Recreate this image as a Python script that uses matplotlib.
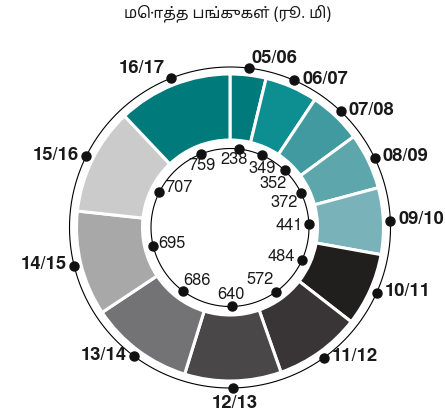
import numpy as np
import matplotlib
matplotlib.use("Agg")
import matplotlib.pyplot as plt
from matplotlib import font_manager as fm

# ---------------- data ----------------
title = "மொத்த பங்குகள் (ரூ. மி)"
years = ["05/06", "06/07", "07/08", "08/09", "09/10", "10/11",
         "11/12", "12/13", "13/14", "14/15", "15/16", "16/17"]
values = [238, 349, 352, 372, 441, 484, 572, 640, 686, 695, 707, 759]
colors = ["#007a7a", "#0d8f92", "#409a9f", "#5ca6ac", "#7ab2ba", "#211e1e",
          "#393536", "#494748", "#737274", "#a8a8a8", "#cbcbcb", "#007a7a"]

# layout nudges (pixels) for the inner value labels
inner_nudge = [(-4, 1.5), (6, -0.5), (0.5, -1.5), (-0.5, -1.5), (0, -1), (-4, -4.5),
               (-7, -2), (0, 0), (4.5, -3.5), (-0.5, -2), (3, 13), (-4, 2)]

installed = {f.name for f in fm.fontManager.ttflist}
base_fams = [f for f in ["FreeSans", "Liberation Sans", "DejaVu Sans"] if f in installed]
tamil_pref = [f for f in ["Noto Sans Tamil", "FreeSans", "Anek Tamil"] if f in installed]
title_fams = tamil_pref[:1] + [f for f in base_fams if f not in tamil_pref[:1]]

W, H = 445, 417
cx_px, cy_px = 230, 227.5
fig = plt.figure(figsize=(W / 100, H / 100), dpi=100)
ax = fig.add_axes([0, 0, 1, 1])

R_SEG_OUT = 153.5
SEG_W = 66
R_OUT = 160.5
R_IN = 79

ax.pie(values, colors=colors, startangle=90, counterclock=False,
       radius=R_SEG_OUT, center=(0, 0), frame=True,
       wedgeprops=dict(width=SEG_W, edgecolor="white", linewidth=2.2))

t = np.linspace(0, 2 * np.pi, 400)
ax.plot(R_OUT * np.cos(t), R_OUT * np.sin(t), color="black", lw=0.8)
ax.plot(R_IN * np.cos(t), R_IN * np.sin(t), color="black", lw=0.8)

vals = np.array(values, dtype=float)
cum = np.cumsum(vals)
mid = (cum - vals / 2) / vals.sum() * 360.0  # clockwise from top, degrees
rad = np.deg2rad(mid)
ux, uy = np.sin(rad), np.cos(rad)

ax.plot(R_OUT * ux, R_OUT * uy, "o", color="#111111", ms=6.5, zorder=5)
ax.plot(R_IN * ux, R_IN * uy, "o", color="#111111", ms=6.5, zorder=5)

lab_font = dict(family=base_fams, color="#1a1a1a")
OFS = 13.2
for name, th, x, y in zip(years, mid, R_OUT * ux, R_OUT * uy):
    kw = dict(fontsize=OFS, fontweight="bold", **lab_font)
    if th < 20:
        ax.text(x + 2, y + 1.5, name, ha="left", va="bottom", **kw)
    elif th > 330:
        ax.text(x - 6, y + 1, name, ha="right", va="bottom", **kw)
    elif 165 < th < 195:
        ax.text(x + 2, y - 7, name, ha="center", va="top", **kw)
    elif th < 180:
        ax.text(x + 8, y + 1, name, ha="left", va="center", **kw)
    else:
        ax.text(x - 7, y + 1, name, ha="right", va="center", **kw)

for v, th, x0, y0, (nx, ny) in zip(values, rad, ux, uy, inner_nudge):
    d = 11.5 + 8 * abs(np.sin(th))
    r = R_IN - d
    ax.text(r * x0 + nx, r * y0 + ny, str(v), ha="center", va="center",
            fontsize=11.8, **lab_font)

ax.text(228 - cx_px, cy_px - 13, title, ha="center", va="center", fontsize=11,
        family=title_fams, color="#1a1a1a")

ax.set_xlim(-cx_px, W - cx_px)
ax.set_ylim(-(H - cy_px), cy_px)
ax.set_aspect("equal")
ax.axis("off")
fig.savefig("out.png", dpi=100)
